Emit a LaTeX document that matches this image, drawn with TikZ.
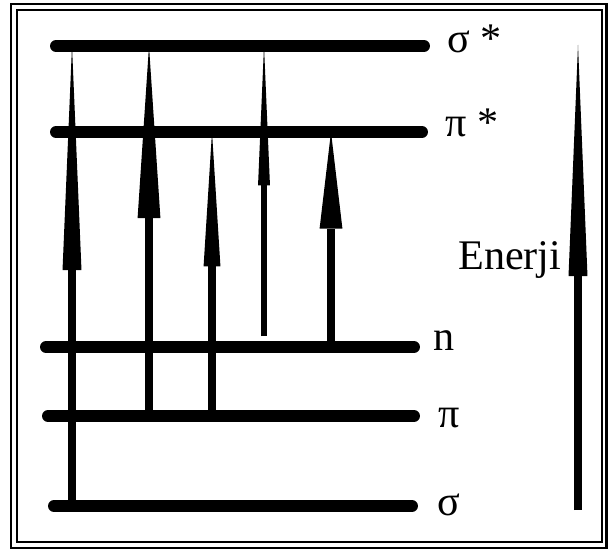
\documentclass[tikz,border=0pt]{standalone}
\usepackage{fontspec}
\setmainfont{Liberation Serif}
\usetikzlibrary{arrows.meta}
\tikzset{
  seviye/.style={line width=6.8pt,line cap=round},
  gecis/.style={line width=5.1pt},
  ince/.style={line width=3.4pt},
  ok/.style 2 args={-{Triangle[length=#1,width=#2,line width=0pt 0 0]}},
  etiket/.style={anchor=base west,inner sep=0pt,font=\fontsize{24}{28}\selectfont},
  cerceve/.style={line width=1.7pt},
}

\begin{document}
\begin{tikzpicture}[x=0.02cm,y=-0.02cm]
  \useasboundingbox (0,0) rectangle (608,550);
  % cerceve
  \draw[cerceve] (11,4) rectangle (606,548);
  \draw[line width=1.1pt] (17,10) rectangle (602,542);

  % enerji seviyeleri
  \coordinate (ssL) at (56,46);  \coordinate (ssR) at (424,46);
  \coordinate (psL) at (56,132); \coordinate (psR) at (422,132);
  \coordinate (nL) at (46,347);  \coordinate (nR) at (414,347);
  \coordinate (pL) at (48,416);  \coordinate (pR) at (414,416);
  \coordinate (sL) at (54,506);  \coordinate (sR) at (412,506);

  % gecis sutunlari
  \coordinate (g1) at (72,0);  \coordinate (g2) at (149,0);
  \coordinate (g3) at (212,0); \coordinate (g4) at (264,0);
  \coordinate (g5) at (331,0);

  \draw[gecis,ok={127.6pt}{10.8pt}] (g1 |- sL) -- (g1 |- ssL);
  \draw[gecis,ok={98pt}{13pt}] (g2 |- pL) -- (g2 |- ssL);
  \draw[gecis,ok={76.5pt}{9.6pt}] (g3 |- pL) -- (g3 |- psL);
  \draw[ince,ok={79.4pt}{6.8pt},shorten <=6.2pt] (g4 |- nL) -- (g4 |- ssL);
  \draw[gecis,ok={55pt}{13pt}] (g5 |- nL) -- (g5 |- psL);

  \draw[seviye] (ssL) -- (ssR);
  \draw[seviye] (psL) -- (psR);
  \draw[seviye] (nL) -- (nR);
  \draw[seviye] (pL) -- (pR);
  \draw[seviye] (sL) -- (sR);

  \node[etiket] (ss) at (447,53) {σ *};
  \node[etiket] (ps) at (445,137) {π *};
  \node[etiket] (n) at (433,350) {n};
  \node[etiket] (p) at (438,427) {π};
  \node[etiket] (s) at (437,515) {σ};

  % enerji oku
  \coordinate (eA) at (578,510);
  \coordinate (eU) at (578,45);
  \draw[gecis,ok={131.5pt}{10.8pt}] (eA) -- (eU);
  \node[etiket] (en) at (458,270) {Enerji};
\end{tikzpicture}
\end{document}
